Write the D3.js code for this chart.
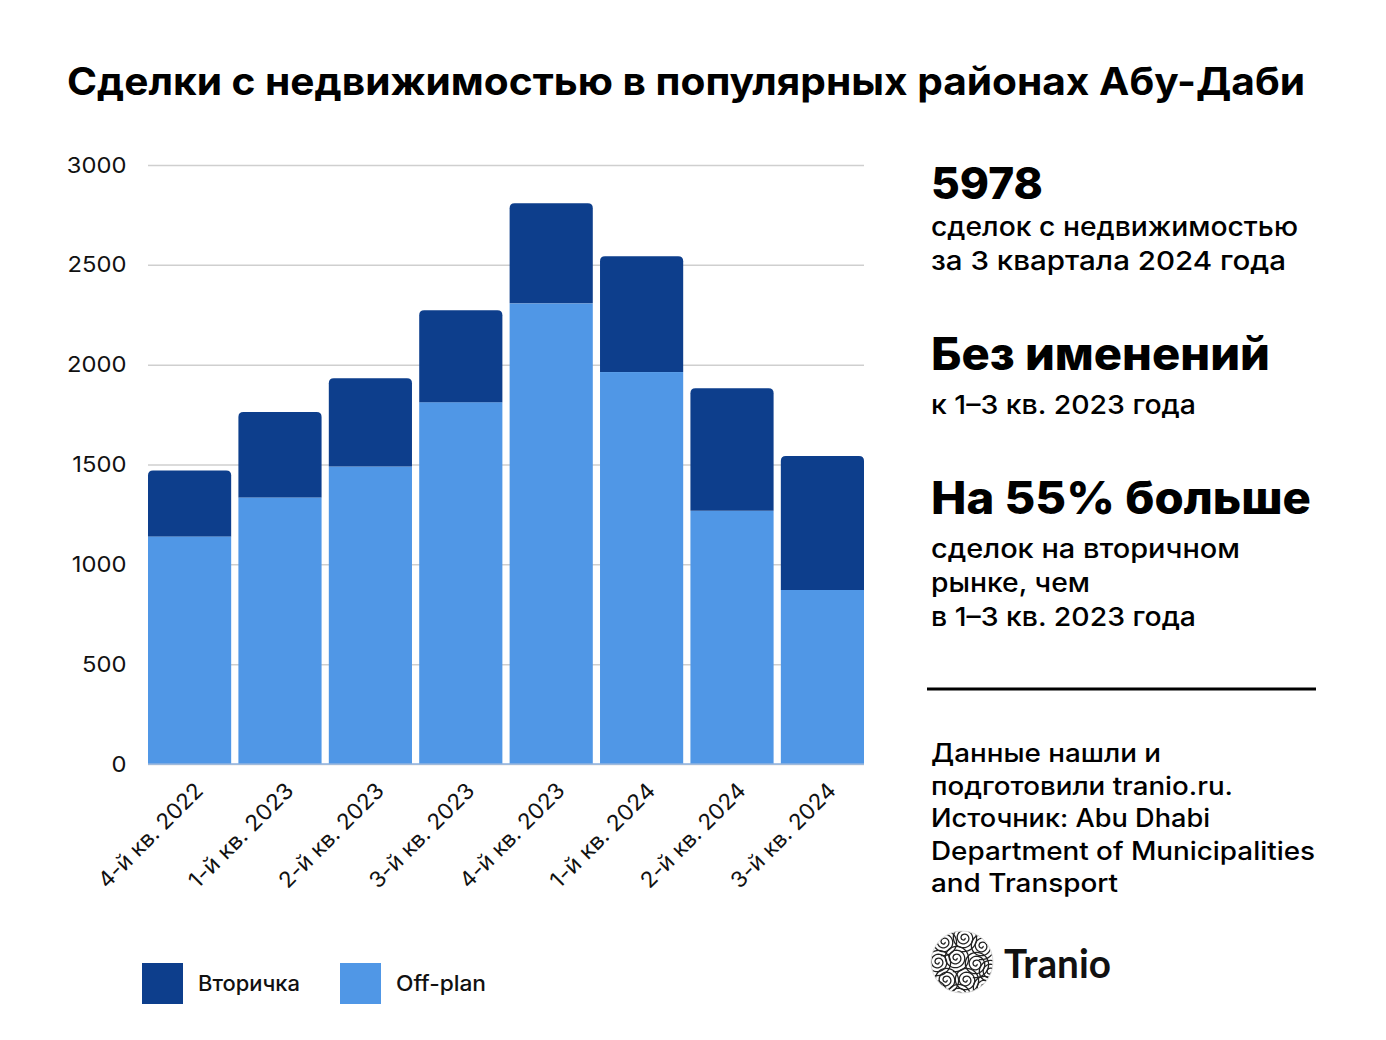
<!DOCTYPE html>
<html>
<head>
<meta charset="utf-8">
<script src="https://cdn.jsdelivr.net/npm/d3@7"></script>
<style>
  body { margin: 0; background: #fff; }
  svg { display: block; font-family: Inter, "Noto Sans", sans-serif; }
</style>
</head>
<body>
<svg id="chart" width="1386" height="1040"></svg>
<script>
// data
var quarters = ["4-й кв. 2022", "1-й кв. 2023", "2-й кв. 2023", "3-й кв. 2023",
                "4-й кв. 2023", "1-й кв. 2024", "2-й кв. 2024", "3-й кв. 2024"];
var offPlan  = [1140, 1335, 1490, 1812, 2307, 1963, 1268, 872];
var resale   = [330, 428, 442, 460, 502, 580, 614, 670];
var yTicks   = [0, 500, 1000, 1500, 2000, 2500, 3000];
var seriesNames  = ["Вторичка", "Off-plan"];
var seriesColors = ["#0d3e8c", "#5097e6"];

var svg = d3.select("#chart");

var M = {top: 165, left: 148, right: 864, bottom: 764};

var rows = quarters.map(function(q, i) {
  return {q: q, offplan: offPlan[i], resale: resale[i]};
});

var x = d3.scaleBand().domain(quarters).range([M.left, M.right])
  .paddingInner(0.08).paddingOuter(0);
var y = d3.scaleLinear().domain([0, 3000]).range([M.bottom, M.top]);

// text helper: fit each line to the width it has in the layout
function txt(parent, t, xx, yy, size, weight, width) {
  var el = parent.append("text").attr("x", xx).attr("y", yy)
    .attr("font-size", size).attr("font-weight", weight || 400)
    .attr("fill", "#000").text(t);
  if (width) el.attr("textLength", width).attr("lengthAdjust", "spacingAndGlyphs");
  return el;
}

// title
txt(svg, "Сделки с недвижимостью в популярных районах Абу-Даби", 67, 95, 38, 700, 1238);

// grid + y axis
svg.append("g")
  .attr("transform", "translate(" + M.left + ",0)")
  .call(d3.axisLeft(y).tickValues(yTicks).tickFormat(d3.format("d"))
    .tickSize(-(M.right - M.left)).tickPadding(20))
  .call(function(g) {
    g.select(".domain").remove();
    g.selectAll(".tick line").attr("stroke", "#cfcfcf").attr("stroke-width", 1.5);
    g.selectAll(".tick text").attr("font-size", 22).attr("fill", "#111")
      .attr("font-family", "Inter, sans-serif")
      .attr("transform", "scale(1.08,1)");
  });

// stacked bars
var stack = d3.stack().keys(["offplan", "resale"])(rows);
var r = 5;

var g = svg.append("g");
g.selectAll("rect.off").data(stack[0]).enter().append("rect")
  .attr("class", "off")
  .attr("x", function(d) { return x(d.data.q); })
  .attr("width", x.bandwidth())
  .attr("y", function(d) { return y(d[1]); })
  .attr("height", function(d) { return y(d[0]) - y(d[1]); })
  .attr("fill", seriesColors[1]);

g.selectAll("path.res").data(stack[1]).enter().append("path")
  .attr("class", "res")
  .attr("fill", seriesColors[0])
  .attr("d", function(d) {
    var x0 = x(d.data.q), w = x.bandwidth(),
        yt = y(d[1]), yb = y(d[0]);
    return "M" + x0 + "," + yb +
      "V" + (yt + r) + "Q" + x0 + "," + yt + " " + (x0 + r) + "," + yt +
      "H" + (x0 + w - r) + "Q" + (x0 + w) + "," + yt + " " + (x0 + w) + "," + (yt + r) +
      "V" + yb + "Z";
  });

svg.append("line")
  .attr("x1", M.left).attr("x2", M.right)
  .attr("y1", y(0)).attr("y2", y(0))
  .attr("stroke", "#8fb3e0").attr("stroke-width", 1.5);

// x labels
svg.append("g").selectAll("text").data(quarters).enter().append("text")
  .attr("transform", function(d) {
    return "translate(" + (x(d) + x.bandwidth() / 2 + 15) + "," + (y(0) + 28) + ") rotate(-45)";
  })
  .attr("text-anchor", "end")
  .attr("font-size", 22).attr("fill", "#111")
  .attr("textLength", 138).attr("lengthAdjust", "spacingAndGlyphs")
  .text(function(d) { return d; });

// legend
var leg = svg.append("g").attr("transform", "translate(142,963)");
var legX = [0, 198], legW = [102, 90];
seriesNames.forEach(function(n, i) {
  leg.append("rect").attr("x", legX[i]).attr("y", 0).attr("width", 41).attr("height", 41)
    .attr("fill", seriesColors[i]);
  txt(leg, n, legX[i] + 56, 28, 21, 500, legW[i]).attr("fill", "#111");
});

// right panel
var side = svg.append("g").attr("transform", "translate(931,0)");
txt(side, "5978", 0, 199, 44, 800, 112);
txt(side, "сделок с недвижимостью", 0, 236, 26, 500, 367);
txt(side, "за 3 квартала 2024 года", 0, 270, 26, 500, 355);
txt(side, "Без именений", 0, 370, 45, 800, 339);
txt(side, "к 1–3 кв. 2023 года", 0, 414, 26, 500, 265);
txt(side, "На 55% больше", 0, 514, 45, 800, 380);
txt(side, "сделок на вторичном", 0, 558, 26, 500, 309);
txt(side, "рынке, чем", 0, 592, 26, 500, 159);
txt(side, "в 1–3 кв. 2023 года", 0, 626, 26, 500, 265);

svg.append("line").attr("x1", 927).attr("x2", 1316).attr("y1", 689).attr("y2", 689)
  .attr("stroke", "#000").attr("stroke-width", 3);

var srcLines = ["Данные нашли и", "подготовили tranio.ru.", "Источник: Abu Dhabi",
                "Department of Municipalities", "and Transport"];
var srcW = [230, 302, 279, 384, 187];
srcLines.forEach(function(t, i) {
  txt(side, t, 0, 762 + i * 32.5, 25, 500, srcW[i]);
});

// logo
var logo = svg.append("g").attr("transform", "translate(962,962)");
logo.append("clipPath").attr("id", "lc").append("circle").attr("r", 31);
var lg = logo.append("g").attr("clip-path", "url(#lc)");
lg.append("circle").attr("r", 31).attr("fill", "#fff");
var centers = [[-18,-20],[2,-24],[20,-16],[-24,0],[-6,-4],[14,2],[28,10],[-16,18],[4,18],[22,26],[-4,34],[-28,30]];
var spiral = d3.line().curve(d3.curveBasis);
centers.forEach(function(c) {
  var pts = d3.range(0, 60).map(function(k) {
    var a = k * 0.35, rr = 1 + k * 0.22;
    return [c[0] + rr * Math.cos(a), c[1] + rr * Math.sin(a)];
  });
  lg.append("path").attr("d", spiral(pts)).attr("fill", "none")
    .attr("stroke", "#222").attr("stroke-width", 1.3);
});
logo.append("circle").attr("r", 31).attr("fill", "none").attr("stroke", "#ddd").attr("stroke-width", 1);

svg.append("text").attr("x", 1004).attr("y", 978)
  .attr("font-size", 40).attr("font-weight", 700).attr("fill", "#111")
  .attr("font-family", "Lato, sans-serif")
  .attr("textLength", 107).attr("lengthAdjust", "spacingAndGlyphs")
  .text("Tranio");
</script>
</body>
</html>
